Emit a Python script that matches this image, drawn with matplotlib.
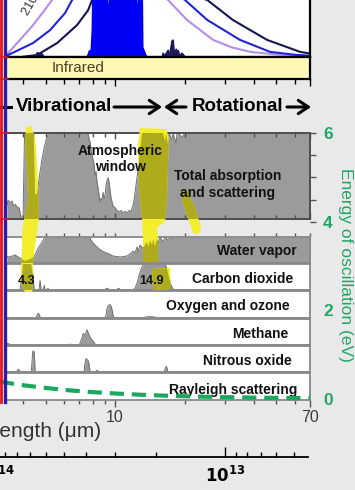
import numpy as np
import matplotlib
matplotlib.use("Agg")
import matplotlib.pyplot as plt
from matplotlib.ticker import FixedLocator, NullFormatter, NullLocator
from matplotlib.lines import Line2D
from matplotlib.patches import Polygon, FancyArrowPatch

plt.rcParams['font.family'] = ['Liberation Sans', 'DejaVu Sans']

# ======================= DATA (wavelength in micrometres) =======================
# top panel: normalised thermal emission curves (values > 1 run off the top)
violet_lam = [3.30, 3.44, 3.87, 4.41, 4.88, 5.33, 6.5, 8.0, 10.0, 13.0, 16.97, 20.5, 26.6, 32.0, 38.5, 50.0, 70.0]
violet_val = [0.03, 0.07, 0.30, 0.56, 0.79, 1.00, 1.40, 1.60, 1.65, 1.50, 1.00, 0.65, 0.30, 0.17, 0.09, 0.045, 0.02]
blue_lam = [3.30, 3.44, 4.41, 5.22, 6.07, 6.51, 8.0, 11.0, 15.0, 20.1, 25.1, 34.8, 47.0, 60.0, 70.0]
blue_val = [0.02, 0.035, 0.245, 0.47, 0.77, 1.00, 1.40, 1.50, 1.35, 1.00, 0.65, 0.30, 0.09, 0.04, 0.02]
navy_lam = [4.00, 4.59, 5.61, 6.84, 7.64, 7.95, 10.0, 15.0, 25.1, 32.4, 45.6, 63.4, 70.0]
navy_val = [0.005, 0.035, 0.245, 0.56, 0.82, 1.00, 1.30, 1.30, 1.00, 0.65, 0.30, 0.09, 0.06]
# transmitted radiation through the window
win_lam = [7.45, 7.56, 7.64, 7.79, 7.87, 7.92, 8.5, 9.22, 9.31, 9.40, 9.5, 10.5, 12.3, 12.42, 12.5, 12.6, 13.15, 13.22, 13.4, 13.6, 13.9]
win_val = [0.0, 0.06, 0.12, 0.14, 0.5, 1.2, 1.2, 1.2, 0.93, 1.2, 1.2, 1.2, 1.2, 0.93, 1.2, 1.2, 1.2, 0.18, 0.12, 0.05, 0.0]
bump_lam = [4.45, 4.52, 4.58, 4.66, 4.76, 4.86, 4.92]
bump_val = [0.0, 0.05, 0.09, 0.07, 0.08, 0.04, 0.0]
spike_lam = [16.0, 16.15, 16.35, 16.8, 16.97, 17.2, 17.5, 17.65, 17.75, 17.83, 18.0, 18.4, 18.56, 18.75, 19.0, 19.5, 20.1]
spike_val = [0.0, 0.07, 0.02, 0.09, 0.12, 0.03, 0.20, 0.28, 0.10, 0.30, 0.05, 0.14, 0.05, 0.12, 0.02, 0.07, 0.0]

# total absorption and scattering (fraction absorbed)
tot_lam = [3.40, 3.44, 3.51, 3.58, 3.62, 3.69, 3.76, 3.84, 3.87, 3.91, 3.95, 3.99, 4.05, 4.44, 4.50, 4.59,
           4.73, 4.83, 4.93, 5.02, 5.12, 5.22, 7.64, 7.72, 7.79, 7.87, 7.95, 8.03, 8.11, 8.19, 8.27, 8.36,
           8.44, 8.52, 8.61, 8.69, 8.78, 8.87, 8.96, 9.05, 9.14, 9.23, 9.33, 9.42, 9.51, 9.61, 9.70, 9.80,
           10.0, 10.2, 10.4, 10.6, 10.83, 11.05, 11.27, 11.5, 11.73, 11.85, 11.97, 12.09, 12.2, 12.33, 12.45,
           12.58, 12.7, 12.83, 12.96, 13.09, 16.15, 16.47, 16.64, 16.97, 17.14, 17.65, 17.83, 18.4, 18.56,
           19.7, 19.9, 70.0]
tot_val = [0.16, 0.22, 0.19, 0.21, 0.15, 0.17, 0.14, 0.13, 0.08, 0.03, 0.0, 0.0, 1.0, 1.0, 0.28, 0.30,
           0.55, 0.71, 0.83, 0.92, 0.98, 1.0, 1.0, 0.92, 0.90, 0.80, 0.74, 0.69, 0.63, 0.51, 0.55, 0.42,
           0.36, 0.28, 0.20, 0.24, 0.22, 0.31, 0.24, 0.28, 0.40, 0.45, 0.48, 0.43, 0.34, 0.24, 0.20, 0.15,
           0.13, 0.10, 0.08, 0.10, 0.07, 0.09, 0.07, 0.10, 0.08, 0.13, 0.16, 0.22, 0.30, 0.40, 0.48,
           0.57, 0.68, 0.80, 0.90, 1.0, 1.0, 0.90, 1.0, 0.86, 1.0, 0.92, 1.0, 0.88, 1.0,
           0.95, 1.0, 1.0]

wv_lam = [3.40, 3.44, 3.58, 3.69, 3.80, 3.95, 4.07, 4.20, 4.37, 4.50, 4.64, 4.83, 4.97, 7.64, 7.79, 7.95,
          8.19, 8.44, 8.78, 9.23, 9.80, 10.5, 11.27, 11.61, 11.97, 12.2, 12.45, 12.58, 12.83, 13.22, 13.76,
          13.9, 14.18, 14.46, 14.61, 14.91, 15.2, 15.37, 15.67, 16.15, 16.47, 16.97, 17.31, 17.83, 18.56,
          19.13, 19.5, 70.0]
wv_val = [0.25, 0.23, 0.27, 0.31, 0.23, 0.15, 0.08, 0.12, 0.19, 0.31, 0.58, 0.81, 1.0, 1.0, 0.96, 0.81,
          0.69, 0.58, 0.46, 0.38, 0.27, 0.23, 0.27, 0.35, 0.46, 0.38, 0.62, 0.42, 0.69, 0.58, 0.81,
          0.62, 0.88, 0.69, 0.92, 0.65, 0.96, 0.77, 1.0, 0.81, 1.0, 0.88, 1.0, 0.92, 1.0,
          0.96, 1.0, 1.0]

co2_lam = [3.40, 3.87, 3.95, 3.99, 4.33, 4.41, 4.46, 4.68, 4.73, 4.78, 4.88, 4.93, 4.97, 5.07, 5.12, 5.17,
           8.96, 9.23, 9.51, 10.1, 10.35, 10.6, 11.97, 12.2, 12.45, 12.7, 12.96, 13.22, 13.49, 16.47, 16.8,
           17.14, 17.48, 17.83, 18.2, 70.0]
co2_val = [0.0, 0.0, 0.55, 1.0, 1.0, 0.55, 0.0, 0.0, 0.37, 0.0, 0.0, 0.18, 0.0, 0.0, 0.07, 0.0,
           0.0, 0.07, 0.0, 0.0, 0.07, 0.0, 0.0, 0.07, 0.26, 0.55, 0.81, 0.96, 1.0, 1.0, 0.81,
           0.48, 0.18, 0.04, 0.0, 0.0]

o3_lam = [3.40, 4.54, 4.59, 4.64, 4.68, 4.73, 4.78, 9.05, 9.14, 9.23, 9.33, 9.51, 9.61, 9.70, 9.80, 9.90,
          13.22, 13.62, 14.18, 14.76, 15.2, 70.0]
o3_val = [0.0, 0.0, 0.10, 0.18, 0.14, 0.04, 0.0, 0.0, 0.10, 0.36, 0.46, 0.50, 0.43, 0.32, 0.10, 0.0,
          0.0, 0.04, 0.05, 0.04, 0.0, 0.0]

ch4_lam = [3.40, 3.47, 3.55, 6.30, 6.38, 6.45, 6.98, 7.05, 7.20, 7.27, 7.41, 7.56, 7.64, 7.79, 8.03, 8.19, 8.27, 70.0]
ch4_val = [0.07, 0.04, 0.0, 0.0, 0.04, 0.0, 0.0, 0.07, 0.30, 0.44, 0.37, 0.59, 0.48, 0.30, 0.15, 0.04, 0.0, 0.0]

n2o_lam = [3.40, 3.73, 3.80, 3.87, 3.91, 4.33, 4.37, 4.39, 4.41, 4.46, 4.48, 4.50, 7.34, 7.41, 7.49, 7.56,
           7.64, 7.72, 7.79, 8.19, 8.36, 8.52, 16.3, 16.47, 16.64, 16.8, 16.97, 70.0]
n2o_val = [0.0, 0.0, 0.11, 0.04, 0.0, 0.0, 0.44, 0.74, 0.81, 0.78, 0.44, 0.0, 0.0, 0.37, 0.52, 0.48,
           0.44, 0.30, 0.0, 0.0, 0.07, 0.0, 0.0, 0.11, 0.22, 0.15, 0.0, 0.0]

# photon energy of oscillation (eV), green dashed curve
en_lam = [3.17, 3.5, 4.0, 5.0, 6.0, 8.0, 10.0, 13.0, 17.0, 22.0, 30.0, 40.0, 55.0, 70.0]
en_val = [0.39, 0.355, 0.31, 0.25, 0.205, 0.155, 0.124, 0.095, 0.073, 0.056, 0.041, 0.031, 0.023, 0.018]

# axes ticks
lam_major = [10, 70]
lam_major_labels = ['10', '70']
lam_minor = [4, 5, 6, 7, 8, 9, 20, 30, 40, 50, 60]
freq_major = [1e13, 1e14]
freq_major_labels = [r'$\mathbf{10^{13}}$', r'$\mathbf{10^{14}}$']
freq_minor = [4e12, 5e12, 6e12, 7e12, 8e12, 9e12, 2e13, 3e13, 4e13, 5e13, 6e13, 7e13, 8e13, 9e13]
energy_major = [0, 2, 4, 6]
energy_minor = [4.5, 5, 5.5]

# hand-drawn highlighter strokes: wavelength and vertical pixel position
hlA_lam = [4.11, 4.07, 4.16, 4.20, 4.07, 3.95, 3.95, 3.91, 3.95, 4.07, 4.37, 4.41, 4.41, 4.50, 4.59, 4.68, 4.64, 4.59, 4.50, 4.33]
hlA_y = [127, 140, 175, 200, 215, 232, 250, 268, 286, 292, 292, 283, 262, 245, 232, 218, 195, 165, 138, 126]
hlB_lam = [12.83, 12.58, 12.58, 12.83, 13.09, 13.22, 13.22, 15.37, 15.37, 15.2, 16.47, 16.8, 16.97, 17.14, 16.64]
hlB_y = [128, 145, 175, 200, 219, 240, 262, 262, 240, 228, 221, 200, 165, 138, 129]
hlC_lam = [14.46, 17.31, 17.48, 14.61]
hlC_y = [269, 268, 289, 290]
hlD_lam = [19.3, 20.5, 22.2, 23.6, 23.1, 21.8, 20.7, 19.5]
hlD_y = [192, 190, 208, 227, 234, 233, 218, 200]

# ======================= LAYOUT / STYLE =======================
W, H = 355, 490
BG = '#e9e9e9'
GRAY = '#9b9b9b'
GREEN = '#1fa866'
DASH_GREEN = '#1aa85c'
YELLOW = '#f2ee2e'
OLIVE = '#aeab1c'
LAM_L, LAM_R = 3.40, 70.0
PX_L, PX_R = 7, 310
C_LIGHT = 2.998e14

fig = plt.figure(figsize=(W / 100, H / 100), dpi=100, facecolor=BG)


def rect(x0, y0, x1, y1):
    return [x0 / W, 1 - y1 / H, (x1 - x0) / W, (y1 - y0) / H]


def fxy(x, y):
    return x / W, 1 - y / H


_dec = (np.log10(LAM_R) - np.log10(LAM_L)) / (PX_R - PX_L)


def lam_at(px):
    return 10 ** (np.log10(LAM_L) + (px - PX_L) * _dec)


def panel(y0, y1, face='white', spine_col='#888888', lw=1.3):
    ax = fig.add_axes(rect(PX_L, y0, PX_R, y1))
    ax.set_xscale('log')
    ax.set_xlim(LAM_L, LAM_R)
    ax.set_ylim(0, 1)
    ax.set_facecolor(face)
    ax.xaxis.set_major_locator(FixedLocator(lam_major))
    ax.xaxis.set_minor_locator(FixedLocator(lam_minor))
    ax.xaxis.set_major_formatter(NullFormatter())
    ax.xaxis.set_minor_formatter(NullFormatter())
    ax.yaxis.set_major_locator(NullLocator())
    ax.yaxis.set_minor_locator(NullLocator())
    ax.tick_params(axis='x', which='both', bottom=False, top=False)
    ax.spines['left'].set_visible(False)
    for s in ('top', 'bottom', 'right'):
        ax.spines[s].set_color(spine_col)
        ax.spines[s].set_linewidth(lw)
    return ax


def gray_fill(ax, lam, val):
    pc = ax.fill_between(lam, 0, val, color=GRAY, lw=0, zorder=1)
    ax.plot(lam, val, color='#707070', lw=0.7, zorder=1.5)
    return pc


# ---- top panel (thermal emission) ----
ax_top = panel(0, 57, spine_col='black', lw=1.6)
ax_top.spines['top'].set_visible(False)
ax_top.plot(violet_lam, violet_val, color='#b48ee6', lw=1.5)
ax_top.plot(blue_lam, blue_val, color='#2222d6', lw=1.5)
ax_top.plot(navy_lam, navy_val, color='#16164e', lw=1.5)
ax_top.fill_between(win_lam, 0, win_val, color='#0000f4', lw=0, zorder=3)
ax_top.fill_between(bump_lam, 0, bump_val, color='#1a1a5a', lw=0.8, zorder=3)
ax_top.fill_between(spike_lam, 0, spike_val, color='#1a1a5a', lw=0.8, zorder=3)
ax_top.plot(spike_lam, spike_val, color='#1a1a5a', lw=0.9, zorder=3)

# ---- infrared band ----
ax_ir = panel(57, 79, face='#fdf8b6', spine_col='black', lw=1.6)
ax_ir.tick_params(axis='x', which='both', bottom=True, direction='out', color='black', width=1.0)
ax_ir.tick_params(axis='x', which='major', length=5)
ax_ir.tick_params(axis='x', which='minor', length=3.5)

# ---- total absorption ----
ax_tot = panel(133, 219, spine_col='#4d4d4d', lw=1.4)
pc_tot = gray_fill(ax_tot, tot_lam, tot_val)
ax_tot.tick_params(axis='x', which='both', bottom=True, top=True, direction='in', color='#4d4d4d', width=1.0)
ax_tot.tick_params(axis='x', which='major', length=4)
ax_tot.tick_params(axis='x', which='minor', length=3)

# ---- individual gases ----
ax_wv = panel(237, 263)
pc_wv = gray_fill(ax_wv, wv_lam, wv_val)
ax_wv.tick_params(axis='x', which='both', top=True, direction='out', color='#555555', width=1.0, length=3)

ax_co2 = panel(264, 290)
pc_co2 = gray_fill(ax_co2, co2_lam, co2_val)

ax_o3 = panel(291, 318)
gray_fill(ax_o3, o3_lam, o3_val)

ax_ch4 = panel(319, 345)
gray_fill(ax_ch4, ch4_lam, ch4_val)

ax_n2o = panel(346, 372)
gray_fill(ax_n2o, n2o_lam, n2o_val)

ax_ray = panel(373, 400)
ax_ray.xaxis.set_major_formatter(plt.FixedFormatter(lam_major_labels))
ax_ray.tick_params(axis='x', which='both', bottom=True, direction='out', color='#555555', width=1.0)
ax_ray.tick_params(axis='x', which='major', length=5, labelsize=11.5, labelcolor='#3a3a3a', pad=2)
ax_ray.tick_params(axis='x', which='minor', length=3)
ax_ray.text(*fxy(297, 389.5), 'Rayleigh scattering', transform=fig.transFigure, ha='right', va='center',
            fontsize=10, fontweight='bold', color='#111111')

# ---- highlighter overlay ----
ax_hl = fig.add_axes(rect(0, 0, W, H))
ax_hl.set_xscale('log')
ax_hl.set_xlim(lam_at(0), lam_at(W))
ax_hl.set_ylim(H, 0)
ax_hl.axis('off')
strokes = [(hlA_lam, hlA_y), (hlB_lam, hlB_y), (hlC_lam, hlC_y), (hlD_lam, hlD_y)]
fills = [(pc_tot, ax_tot), (pc_wv, ax_wv), (pc_co2, ax_co2)]
for lam, yy in strokes:
    xy = np.column_stack([lam, yy])
    ax_hl.add_patch(Polygon(xy, closed=True, fc=YELLOW, ec='none', zorder=1, joinstyle='round'))
    for pc, axp in fills:
        p = Polygon(xy, closed=True, fc=OLIVE, ec='none', zorder=2)
        ax_hl.add_patch(p)
        p.set_clip_path(pc.get_paths()[0], axp.transData)

# ---- energy axis (right) with dashed curve ----
ax_en = fig.add_axes(rect(0, 133, PX_R, 399))
ax_en.set_xscale('log')
ax_en.set_xlim(lam_at(0), LAM_R)
ax_en.set_ylim(0, 6)
ax_en.patch.set_visible(False)
for s in ax_en.spines.values():
    s.set_visible(False)
ax_en.xaxis.set_major_locator(NullLocator())
ax_en.xaxis.set_minor_locator(NullLocator())
ax_en.yaxis.set_major_locator(FixedLocator(energy_major))
ax_en.yaxis.set_minor_locator(FixedLocator(energy_minor))
ax_en.yaxis.set_minor_formatter(NullFormatter())
ax_en.tick_params(axis='y', which='both', left=False, labelleft=False, right=True, labelright=True,
                  direction='out', color='#555555', width=1.0, length=4.5)
ax_en.tick_params(axis='y', which='major', labelsize=12.5, labelcolor=GREEN, pad=5)
for lbl in ax_en.get_yticklabels():
    lbl.set_fontweight('bold')
for t in ax_en.yaxis.get_major_ticks()[:2]:
    t.tick2line.set_visible(False)
ax_en.plot(en_lam, en_val, color=DASH_GREEN, lw=3.0, dashes=(3.4, 1.9), solid_capstyle='butt', clip_on=False)

# ---- frequency axis (bottom) ----
ax_f = fig.add_axes(rect(-10, 440, 308, 457))
ax_f.set_xscale('log')
ax_f.set_xlim(C_LIGHT / lam_at(-10), C_LIGHT / lam_at(308))
ax_f.patch.set_visible(False)
for s in ('top', 'left', 'right'):
    ax_f.spines[s].set_visible(False)
ax_f.spines['bottom'].set_linewidth(1.3)
ax_f.yaxis.set_major_locator(NullLocator())
ax_f.yaxis.set_minor_locator(NullLocator())
ax_f.xaxis.set_major_locator(FixedLocator(freq_major))
ax_f.xaxis.set_major_formatter(plt.FixedFormatter(freq_major_labels))
ax_f.xaxis.set_minor_locator(FixedLocator(freq_minor))
ax_f.xaxis.set_minor_formatter(NullFormatter())
ax_f.tick_params(axis='x', which='both', direction='in', color='black', width=1.0)
ax_f.tick_params(axis='x', which='major', length=7.5, labelsize=12, pad=6)
ax_f.tick_params(axis='x', which='minor', length=3.8)

# ---- texts ----
fig.text(*fxy(31, 18), '210–310 K', rotation=60, rotation_mode='anchor', ha='left', va='bottom',
         fontsize=9, color='#333333')
fig.text(*fxy(78, 68.5), 'Infrared', ha='center', va='center', fontsize=11, color='#4a4320')
fig.text(*fxy(64, 106.5), 'Vibrational', ha='center', va='center', fontsize=13.5, fontweight='bold')
fig.text(*fxy(238, 106.5), 'Rotational', ha='center', va='center', fontsize=13.5, fontweight='bold')
fig.text(*fxy(120, 159), 'Atmospheric\nwindow', ha='center', va='center', fontsize=10, fontweight='bold',
         linespacing=1.25, color='#111111')
fig.text(*fxy(228, 184.5), 'Total absorption\nand scattering', ha='center', va='center', fontsize=10,
         fontweight='bold', linespacing=1.2, color='#111111')
fig.text(*fxy(297, 251), 'Water vapor', ha='right', va='center', fontsize=10, fontweight='bold', color='#111111')
fig.text(*fxy(293, 279), 'Carbon dioxide', ha='right', va='center', fontsize=10, fontweight='bold', color='#111111')
fig.text(*fxy(290, 306), 'Oxygen and ozone', ha='right', va='center', fontsize=10, fontweight='bold', color='#111111')
fig.text(*fxy(288, 334), 'Methane', ha='right', va='center', fontsize=10, fontweight='bold', color='#111111')
fig.text(*fxy(292, 361), 'Nitrous oxide', ha='right', va='center', fontsize=10, fontweight='bold', color='#111111')
fig.text(*fxy(27, 281), '4.3', ha='center', va='center', fontsize=9, fontweight='bold', color='#111111')
fig.text(*fxy(152, 281), '14.9', ha='center', va='center', fontsize=9, fontweight='bold', color='#111111')
fig.text(*fxy(101, 431), 'Wavelength (μm)', ha='right', va='center', fontsize=15, color='#333333')
fig.text(*fxy(345, 265), 'Energy of oscillation (eV)', rotation=270, ha='center', va='center',
         fontsize=12.5, color=GREEN)

# ---- arrows of the Vibrational / Rotational row ----
def arrow(x0, x1, y):
    fig.add_artist(FancyArrowPatch(fxy(x0, y), fxy(x1, y), transform=fig.transFigure,
                                   arrowstyle='->,head_length=0.45,head_width=0.3', mutation_scale=16,
                                   lw=2.2, color='black', shrinkA=0, shrinkB=0))


arrow(114, 162, 107)
arrow(186, 164, 107)
arrow(287, 311, 107)
fig.add_artist(Line2D([fxy(-2, 0)[0], fxy(11, 0)[0]], [fxy(0, 107)[1]] * 2, transform=fig.transFigure,
                      color='black', lw=2.2))

# ---- left boundary lines ----
fig.add_artist(Line2D([fxy(1.4, 0)[0]] * 2, [fxy(0, 402)[1], 1], transform=fig.transFigure,
                      color='#e2161c', lw=2.0))
fig.add_artist(Line2D([fxy(5.0, 0)[0]] * 2, [fxy(0, 402)[1], 1], transform=fig.transFigure,
                      color='#2a1caa', lw=2.4))
for yy in (57, 79, 133, 219):
    fig.add_artist(Line2D([0, fxy(8, 0)[0]], [fxy(0, yy)[1]] * 2, transform=fig.transFigure,
                          color='#e2161c', lw=1.1))

fig.savefig('out.png', dpi=100, facecolor=BG)
